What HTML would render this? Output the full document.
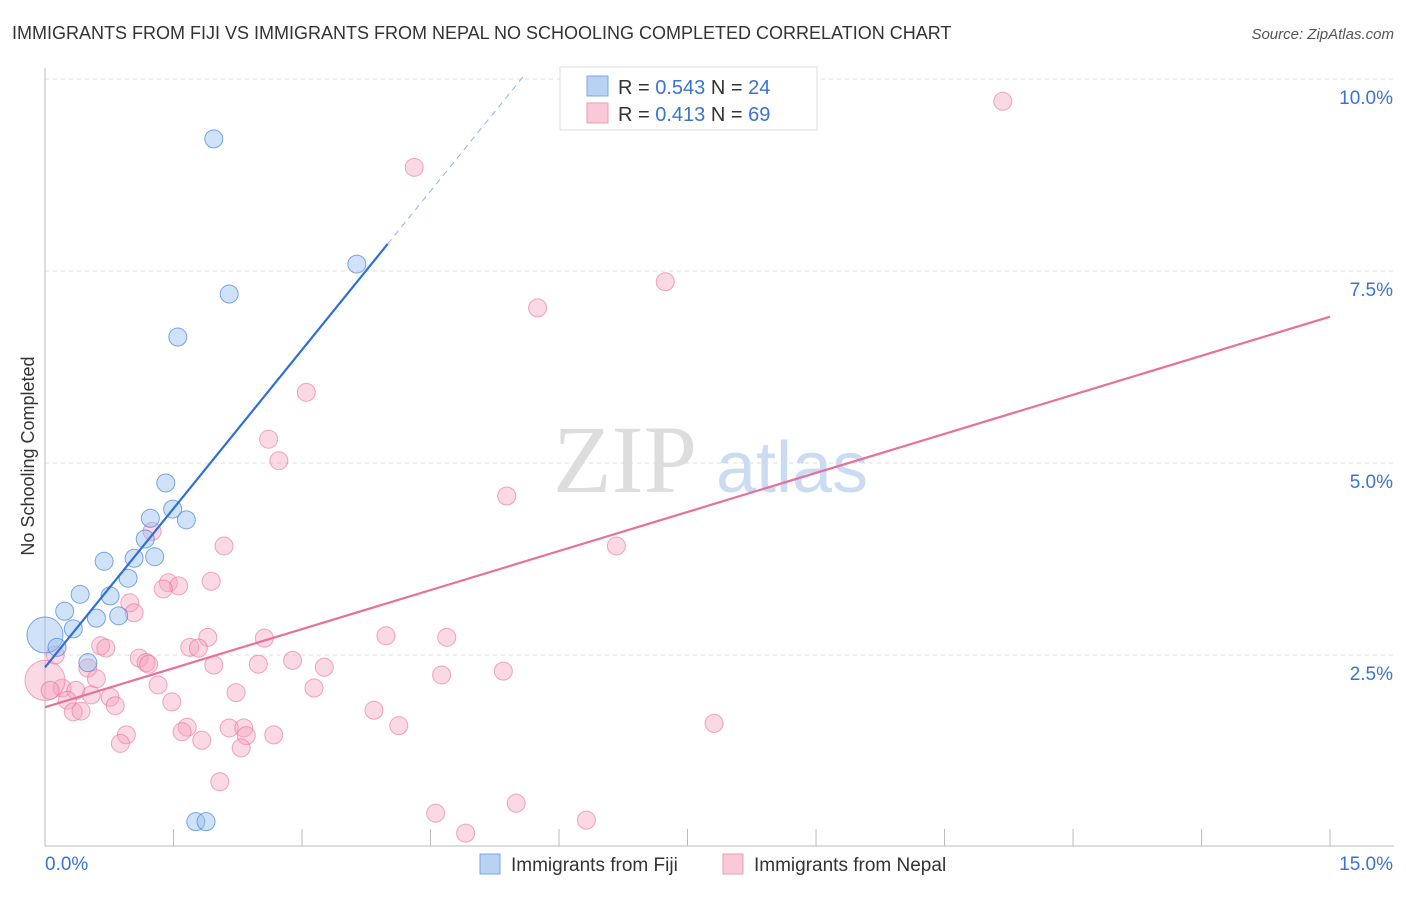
<!DOCTYPE html>
<html><head><meta charset="utf-8"><style>
body{margin:0;background:#fff;font-family:"Liberation Sans",sans-serif;}
svg text{font-family:"Liberation Sans",sans-serif;}
</style></head><body>
<svg id="c" width="1406" height="892">
<text x="12" y="39" font-size="18" fill="#333">IMMIGRANTS FROM FIJI VS IMMIGRANTS FROM NEPAL NO SCHOOLING COMPLETED CORRELATION CHART</text>
<text x="1394" y="39" font-size="15" fill="#555" font-style="italic" text-anchor="end">Source: ZipAtlas.com</text>
<text transform="translate(34,456) rotate(-90)" font-size="18" fill="#333" text-anchor="middle">No Schooling Completed</text>
<g><text x="553" y="492" font-size="96" fill="#ddd" font-family="Liberation Serif" style="font-family:'Liberation Serif',serif">ZIP</text><text x="716" y="492" font-size="72" fill="#c9dcf3">atlas</text></g>
<g id="grid"></g><g id="axes"></g><g id="pts"></g><g id="lines"></g>
<g>
<rect x="560" y="67" width="257" height="63" fill="#fff" stroke="#ddd"/>
<rect x="587" y="76" width="21" height="20" fill="#b8d2f3" stroke="#7aa7e3"/>
<rect x="587" y="103" width="21" height="20" fill="#f9c9d8" stroke="#ef9ab5"/>
<text x="618" y="94" font-size="20" fill="#333">R = <tspan fill="#3a73d4">0.543</tspan>   N = <tspan fill="#3a73d4">24</tspan></text>
<text x="618" y="121" font-size="20" fill="#333">R =  <tspan fill="#3a73d4">0.413</tspan>   N = <tspan fill="#3a73d4">69</tspan></text>
</g>
<g>
<rect x="480" y="854" width="20" height="20" fill="#b8d2f3" stroke="#7aa7e3"/>
<text x="511" y="871" font-size="19" fill="#333">Immigrants from Fiji</text>
<rect x="723" y="854" width="20" height="20" fill="#f9c9d8" stroke="#ef9ab5"/>
<text x="754" y="871" font-size="19" fill="#333">Immigrants from Nepal</text>
</g>
</svg>
<script>
const fijiX=[0,0.14,0.23,0.33,0.41,0.60,0.69,0.76,0.86,0.97,1.04,1.17,1.23,1.28,1.41,1.49,1.65,1.55,1.97,2.15,3.64,1.76,1.88,0.50];
const fijiY=[2.76,2.60,3.07,2.84,3.29,2.98,3.72,3.27,3.01,3.50,3.76,4.01,4.28,3.78,4.74,4.40,4.26,6.64,9.22,7.20,7.59,0.33,0.33,2.40];
const nepalX=[11.18,4.31,7.24,5.75,3.05,2.61,2.73,5.39,6.67,2.09,1.25,1.44,1.56,1.94,1.38,0.99,1.04,0.65,0.71,1.90,1.69,1.79,2.56,3.98,4.69,1.10,1.18,1.21,2.89,3.26,1.97,2.49,4.63,5.35,0.50,0.60,0.20,0.36,1.32,3.14,0.54,2.23,0.76,0.26,1.48,0.82,0.33,0.42,3.84,4.13,7.81,1.66,2.15,2.32,1.60,1.83,2.35,2.67,0.95,0.88,2.29,2.04,5.50,4.56,6.32,4.91,0,0.12,0.06];
const nepalY=[9.71,8.85,7.36,7.02,5.92,5.31,5.03,4.57,3.92,3.92,4.11,3.44,3.40,3.46,3.36,3.18,3.05,2.62,2.59,2.73,2.60,2.59,2.72,2.75,2.73,2.46,2.40,2.38,2.43,2.34,2.37,2.38,2.24,2.29,2.33,2.19,2.07,2.04,2.11,2.07,1.98,2.01,1.95,1.91,1.89,1.84,1.76,1.77,1.78,1.58,1.61,1.56,1.55,1.55,1.50,1.39,1.45,1.46,1.46,1.35,1.29,0.85,0.57,0.44,0.35,0.18,2.17,2.50,2.04];
const yTicks=[2.5,5.0,7.5,10.0];
const yTickLabels=["2.5%","5.0%","7.5%","10.0%"];
const xTicks=[0,1.5,3,4.5,6,7.5,9,10.5,12,13.5,15];
const fijiFit=[2.34,1.378]; // intercept, slope
const nepalFit=[1.82,0.339];
const X=v=>45+v*85.67, Y=v=>847-v*76.8;
const NS="http://www.w3.org/2000/svg";
function mk(p,t,a){const e=document.createElementNS(NS,t);for(const k in a)e.setAttribute(k,a[k]);document.getElementById(p).appendChild(e);return e;}
yTicks.forEach((t,i)=>{
 const l=mk('grid','line',{x1:45,x2:1394,y1:Y(t),y2:Y(t),stroke:'#ddd','stroke-dasharray':'4,4'});
 
 
 const tx=mk('grid','text',{x:1393,y:Y(t)+25,'font-size':19,fill:'#3a73d4','text-anchor':'end'});
 tx.textContent=yTickLabels[i];
 
 
});
const ax=mk('axes','line',{x1:45,x2:1394,y1:846,y2:846,stroke:'#bbb'});


const ay=mk('axes','line',{x1:45,x2:45,y1:68,y2:846,stroke:'#bbb'});


xTicks.forEach(t=>{
 const l=mk('axes','line',{x1:X(t),x2:X(t),y1:829,y2:846,stroke:'#bbb'});
 
 
});
const xl0=mk('axes','text',{x:45,y:870,'font-size':19,fill:'#3a73d4'});xl0.textContent='0.0%';


const xl1=mk('axes','text',{x:1393,y:870,'font-size':19,fill:'#3a73d4','text-anchor':'end'});xl1.textContent='15.0%';


nepalX.forEach((x,i)=>{
 const big=(x===0&&i===66);
 const c=mk('pts','circle',{cx:X(x),cy:Y(nepalY[i]),r:big?20:9,fill:'rgba(246,160,188,0.4)',stroke:'rgba(232,110,150,0.6)'});
 
 
});
fijiX.forEach((x,i)=>{
 const c=mk('pts','circle',{cx:X(x),cy:Y(fijiY[i]),r:i===0?18:9,fill:'rgba(150,190,240,0.45)',stroke:'rgba(70,130,220,0.7)'});
 
 
});
const f=x=>fijiFit[0]+fijiFit[1]*x, n=x=>nepalFit[0]+nepalFit[1]*x;
const fs=mk('lines','line',{x1:X(0),y1:Y(f(0)),x2:X(4.0),y2:Y(f(4.0)),stroke:'#2f6fd6','stroke-width':2.2});


const xe=(10.05-fijiFit[0])/fijiFit[1];
const fd=mk('lines','line',{x1:X(4.0),y1:Y(f(4.0)),x2:X(xe),y2:Y(f(xe)),stroke:'#8fb2e8','stroke-width':1,'stroke-dasharray':'6,5'});


const nl=mk('lines','line',{x1:X(0),y1:Y(n(0)),x2:X(15),y2:Y(n(15)),stroke:'#e8709a','stroke-width':2.2});


</script>
</body></html>
